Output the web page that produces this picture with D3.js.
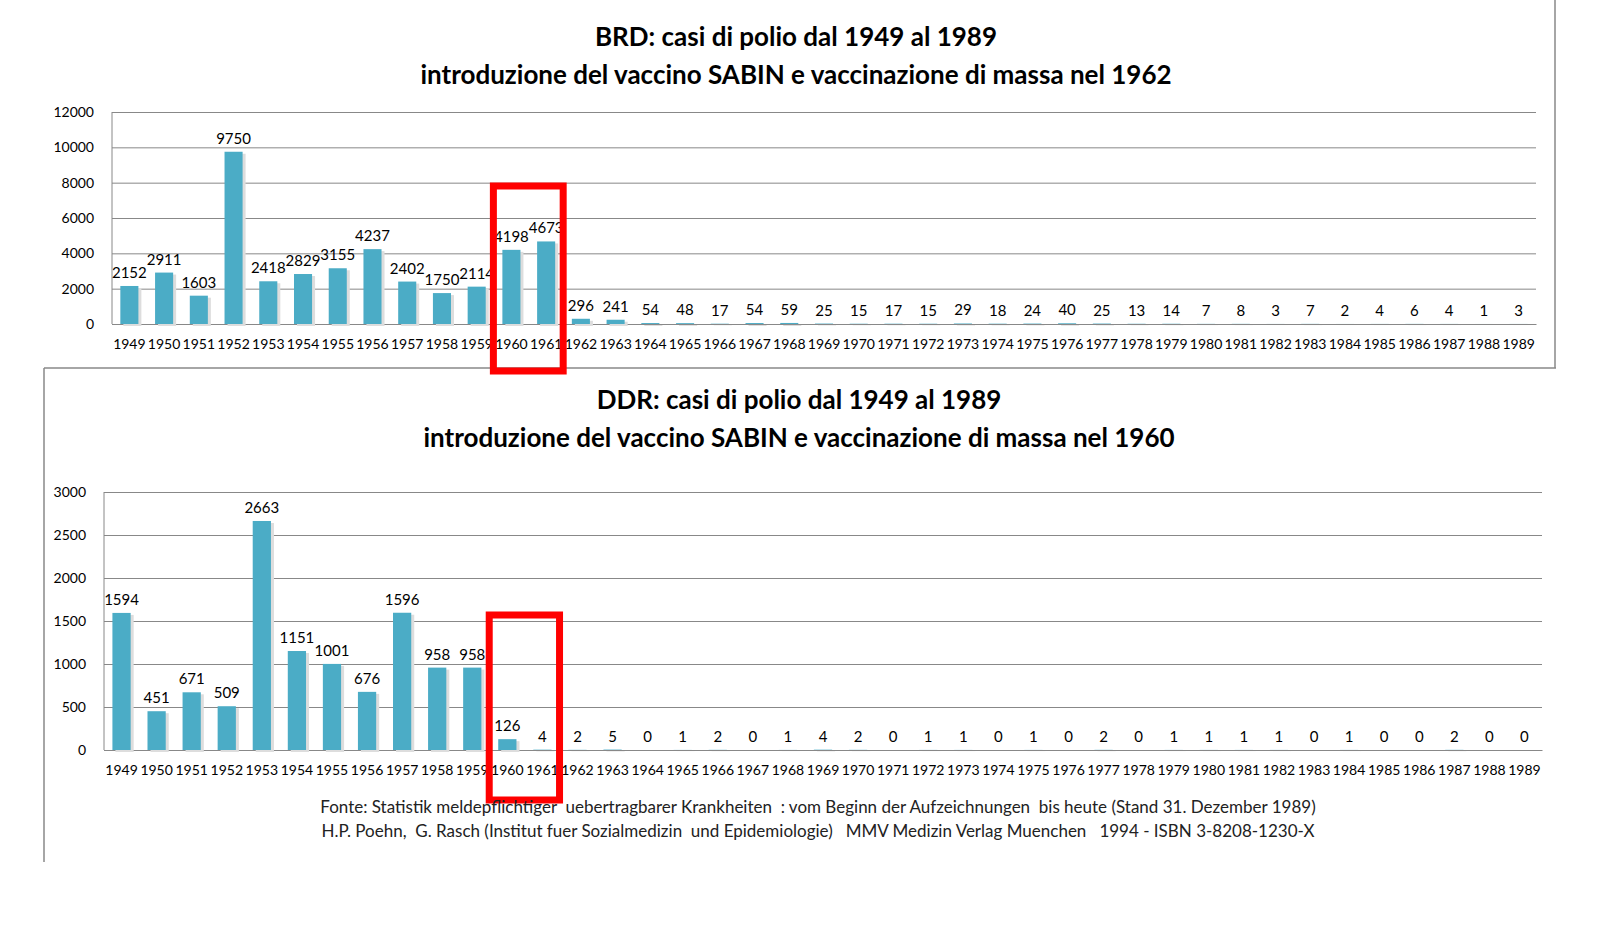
<!DOCTYPE html>
<html><head><meta charset="utf-8">
<script src="https://cdn.jsdelivr.net/npm/d3@7"></script>
<style>body{margin:0;background:#fff}text{font-family:Lato,"Open Sans",sans-serif}</style>
</head><body>
<script>
const years = d3.range(1949, 1990);
const brdCases = [2152,2911,1603,9750,2418,2829,3155,4237,2402,1750,2114,4198,4673,296,241,54,48,17,54,59,25,15,17,15,29,18,24,40,25,13,14,7,8,3,7,2,4,6,4,1,3];
const ddrCases = [1594,451,671,509,2663,1151,1001,676,1596,958,958,126,4,2,5,0,1,2,0,1,4,2,0,1,1,0,1,0,2,0,1,1,1,1,0,1,0,0,2,0,0];
const brdTicks = [0,2000,4000,6000,8000,10000,12000];
const ddrTicks = [0,500,1000,1500,2000,2500,3000];
const highlight = [1960, 1961];

const svg = d3.select("body").append("svg").attr("width",1606).attr("height",931);

// frame lines
svg.append("line").attr("x1",44).attr("y1",368).attr("x2",1556).attr("y2",368).attr("stroke","#888").attr("stroke-width",1.5);
svg.append("line").attr("x1",44).attr("y1",368).attr("x2",44).attr("y2",862).attr("stroke","#888").attr("stroke-width",1.5);
svg.append("line").attr("x1",1555).attr("y1",0).attr("x2",1555).attr("y2",368).attr("stroke","#888").attr("stroke-width",1.5);

function chart(cfg){
  const x = d3.scaleBand().domain(years).range([cfg.x0, cfg.x1]).paddingInner(0.48).paddingOuter(0.24);
  const y = d3.scaleLinear().domain([0, cfg.max]).range([cfg.yb, cfg.yt]);
  const g = svg.append("g");
  g.selectAll(".t").data(cfg.titles).join("text")
    .attr("x", cfg.tx).attr("y",(d,i)=>cfg.ty+i*38).attr("text-anchor","middle")
    .style("font-weight","bold").style("font-size","26px").text(d=>d);
  g.append("g").attr("transform",`translate(${cfg.x0},0)`)
    .call(d3.axisLeft(y).tickValues(cfg.ticks).tickFormat(d3.format("d")).tickSize(-(cfg.x1-cfg.x0)).tickPadding(18))
    .call(a=>a.select(".domain").remove())
    .call(a=>a.selectAll("line").attr("stroke","#888"))
    .call(a=>a.selectAll("text").style("font-size","14px").attr("fill","#000").style("font-family","Lato,'Open Sans',sans-serif"));
  g.append("line").attr("x1",cfg.x0).attr("x2",cfg.x0).attr("y1",cfg.yt).attr("y2",cfg.yb).attr("stroke","#888");
  g.append("g").attr("transform",`translate(0,${cfg.yb})`)
    .call(d3.axisBottom(x).tickSize(0).tickPadding(15))
    .call(a=>a.select(".domain").attr("stroke","#888"))
    .call(a=>a.selectAll("text").style("font-size","14px").attr("fill","#000").style("font-family","Lato,'Open Sans',sans-serif"));
  const data = years.map((yr,i)=>({yr, v:cfg.values[i]}));
  g.selectAll(".sh").data(data).join("rect")
    .attr("x",d=>x(d.yr)+3).attr("y",d=>y(d.v)+2).attr("width",x.bandwidth())
    .attr("height",d=>cfg.yb-y(d.v)).attr("fill","#ddd");
  g.selectAll(".b").data(data).join("rect")
    .attr("x",d=>x(d.yr)).attr("y",d=>y(d.v)).attr("width",x.bandwidth())
    .attr("height",d=>cfg.yb-y(d.v)).attr("fill","#4bacc6");
  g.selectAll(".l").data(data).join("text")
    .attr("x",d=>x(d.yr)+x.bandwidth()/2).attr("y",d=>y(d.v)-8).attr("text-anchor","middle")
    .style("font-size","15px").text(d=>d.v);
  g.append("rect").attr("x",x(highlight[0])-9).attr("y",cfg.ry)
    .attr("width",x(highlight[1])+x.bandwidth()+17-x(highlight[0]))
    .attr("height",185).attr("fill","none").attr("stroke","#f00").attr("stroke-width",7);
}

chart({x0:112,x1:1536,yt:112,yb:324,max:12000,ticks:brdTicks,values:brdCases,tx:796,ty:46,ry:186,
  titles:["BRD: casi di polio dal 1949 al 1989","introduzione del vaccino SABIN e vaccinazione di massa nel 1962"]});
chart({x0:104,x1:1542,yt:492,yb:750,max:3000,ticks:ddrTicks,values:ddrCases,tx:799,ty:409,ry:615,
  titles:["DDR: casi di polio dal 1949 al 1989","introduzione del vaccino SABIN e vaccinazione di massa nel 1960"]});

svg.selectAll(".src").data(["Fonte: Statistik meldepflichtiger  uebertragbarer Krankheiten  : vom Beginn der Aufzeichnungen  bis heute (Stand 31. Dezember 1989)",
  "H.P. Poehn,  G. Rasch (Institut fuer Sozialmedizin  und Epidemiologie)   MMV Medizin Verlag Muenchen   1994 - ISBN 3-8208-1230-X"])
  .join("text").attr("x",818).attr("y",(d,i)=>813+i*24).attr("text-anchor","middle")
  .style("font-size","17px").attr("fill","#222").style("white-space","pre").text(d=>d);
</script>
</body></html>
